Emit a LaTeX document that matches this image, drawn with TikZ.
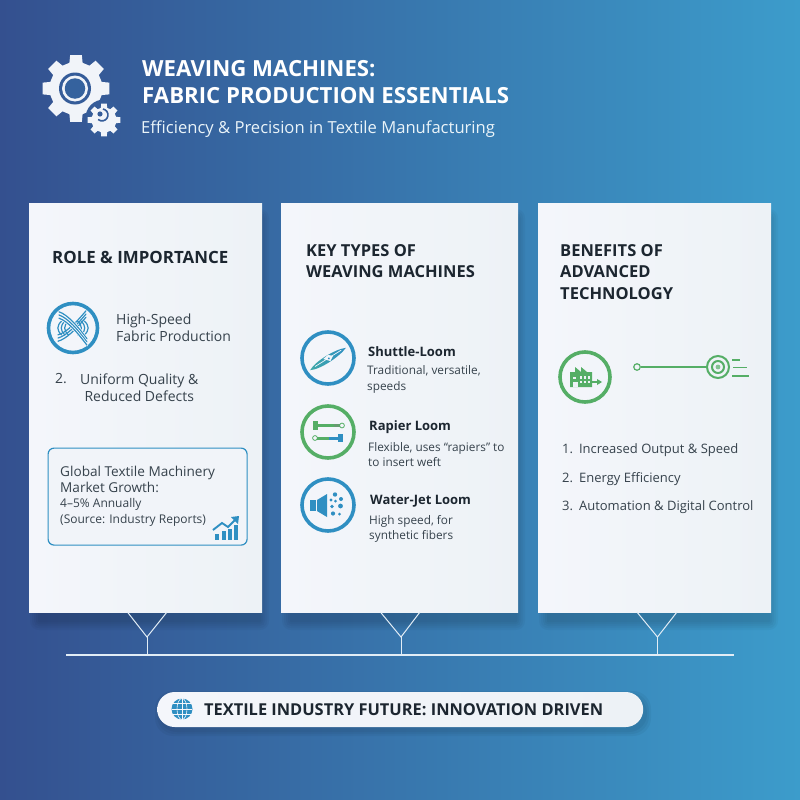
\documentclass[tikz,border=0pt]{standalone}
\usepackage{fontspec}
\setmainfont{Open Sans}
\usetikzlibrary{calc}
\definecolor{bgL}{HTML}{34508F}
\definecolor{bgM}{HTML}{3678B0}
\definecolor{bgR}{HTML}{3C9CCB}
\definecolor{cardA}{HTML}{F4F6FB}
\definecolor{cardB}{HTML}{EDF2F6}
\definecolor{iblue}{HTML}{2F8FC2}
\definecolor{iteal}{HTML}{3FA8A8}
\definecolor{igreen}{HTML}{55AE66}
\definecolor{head}{HTML}{1C2630}
\definecolor{body}{HTML}{36424C}
\definecolor{gearw}{HTML}{F1F4F9}
\newcommand{\gearshape}[6]{% cx cy router rinner n color
  \pgfmathsetmacro{\stp}{360/#5}
  \pgfmathsetmacro{\lastk}{#5-1}
  \fill[#6] ({#1+#3*cos(-\stp*0.22)},{#2+#3*sin(-\stp*0.22)})
    \foreach \k in {0,...,\lastk}{
      -- ({#1+#3*cos(\k*\stp-\stp*0.22)},{#2+#3*sin(\k*\stp-\stp*0.22)})
      -- ({#1+#3*cos(\k*\stp+\stp*0.22)},{#2+#3*sin(\k*\stp+\stp*0.22)})
      -- ({#1+#4*cos(\k*\stp+\stp*0.32)},{#2+#4*sin(\k*\stp+\stp*0.32)})
      -- ({#1+#4*cos(\k*\stp+\stp*0.68)},{#2+#4*sin(\k*\stp+\stp*0.68)})
    } -- cycle;
}
\tikzset{
  x=1pt,y=-1pt,
  cardbox/.style={draw=none,left color=cardA,right color=cardB,minimum height=409pt,inner sep=0pt,anchor=north west},
  heading/.style={anchor=west,inner sep=0pt,font=\fontsize{16.5}{21}\selectfont\bfseries,text=head,align=left},
  bodytxt/.style={anchor=west,inner sep=0pt,font=\fontsize{14}{17}\selectfont,text=body,align=left},
  smalltxt/.style={anchor=west,inner sep=0pt,font=\fontsize{11.8}{15.5}\selectfont,text=body,align=left},
  loomtitle/.style={anchor=west,inner sep=0pt,font=\fontsize{13}{17}\selectfont\bfseries,text=head},
  ring/.style={circle,draw=#1,line width=3.6pt,fill=none,inner sep=0pt},
  wire/.style={draw=cardA!90!bgR,line width=1.3pt},
}
\begin{document}
\begin{tikzpicture}
\useasboundingbox (0,0) rectangle (800,800);
% background
\shade[left color=bgL,middle color=bgM,right color=bgR] (0,0) rectangle (800,800);

% card shadows
\foreach \xa/\xb in {29/262,281/518,538/771}{
  \foreach \g in {1,3,5,7,9}{
    \fill[black,opacity=0.03,rounded corners=\g pt]
      (\xa+10-\g,218-\g) rectangle (\xb-2+\g,621+\g);
  }
}
% cards
\node[cardbox,minimum width=233pt] (card1) at (29,203) {};
\node[cardbox,minimum width=237pt] (card2) at (281,203) {};
\node[cardbox,minimum width=233pt] (card3) at (538,203) {};

% header gear icon
\gearshape{76}{88.5}{34}{26.5}{8}{gearw}
\node[circle,fill=bgL!70!bgM,minimum size=32pt,inner sep=0pt] (gearhole) at (75,88.5) {};
\node[circle,fill=gearw,minimum size=26pt,inner sep=0pt] (gearmid) at (75,88.5) {};
\node[circle,fill=bgL!55!bgM,minimum size=20.5pt,inner sep=0pt] (gearin) at (75,88.5) {};
\fill[bgL!70!bgM] (104,118) circle (18.5);
\gearshape{104}{120}{16.5}{12.5}{8}{gearw}
\draw[bgL!70!bgM,line width=1.6pt] (103,109) arc (-80:130:6);
\fill[bgL!70!bgM] (100,114) circle (2.6);

% title
\node[anchor=west,inner sep=0pt,text=white,font=\fontsize{22.2}{27}\selectfont\bfseries,align=left] (title) at (142,82.5) {WEAVING MACHINES:\\FABRIC PRODUCTION ESSENTIALS};
\node[anchor=west,inner sep=0pt,text=white!90!iblue,font=\fontsize{16.6}{20}\selectfont] (subtitle) at (141,129) {Efficiency \& Precision in Textile Manufacturing};

% card 1
\node[heading,font=\fontsize{16.9}{21}\selectfont\bfseries] (h1) at (52,257) {ROLE \& IMPORTANCE};
\node[ring=iblue,minimum size=49pt] (weave) at (73,328) {};
\begin{scope}[line cap=round]
  \foreach \d in {-3.4,0,3.4}{
    \draw[iblue,line width=1.2pt] ({65+\d},321) .. controls ({60+\d},326) and ({60+\d},330) .. ({65+\d},335);
    \draw[iblue,line width=1.2pt] ({81-\d},321) .. controls ({86-\d},326) and ({86-\d},330) .. ({81-\d},335);
  }
  \foreach \d in {-3.2,0,3.2}{
    \draw[iblue,line width=1.2pt] (58,{338+\d}) .. controls (66,{336+\d}) and (76,{326+\d}) .. (86,{314+\d});
  }
  \foreach \d in {-3.2,0,3.2}{
    \draw[cardA,line width=2.6pt] (59,{315+\d}) .. controls (68,{318+\d}) and (78,{330+\d}) .. (87,{342+\d});
    \draw[iblue,line width=1.2pt] (59,{315+\d}) .. controls (68,{318+\d}) and (78,{330+\d}) .. (87,{342+\d});
  }
\end{scope}
\node[bodytxt] (t11) at (116,327.5) {High-Speed\\Fabric Production};
\node[bodytxt] (t12) at (55,379) {2.};
\node[bodytxt,align=center] (t13) at (80,388) {Uniform Quality \&\\Reduced Defects};
\node[draw=iblue,line width=1.2pt,rounded corners=6pt,minimum width=199pt,minimum height=97pt,anchor=north west,fill=cardA!60!cardB] (market) at (47.5,447.5) {};
\node[bodytxt,font=\fontsize{13.6}{16.5}\selectfont] (m1) at (60,479.5) {Global Textile Machinery\\Market Growth:};
\node[smalltxt,font=\fontsize{12}{16}\selectfont] (m2) at (60,512) {4–5\% Annually\\(Source: Industry Reports)};
\begin{scope}[iblue]
  \fill (215,534) rectangle (219,540);
  \fill (221.5,531) rectangle (225.5,540);
  \fill (228,529) rectangle (232,540);
  \fill (234,525) rectangle (238,540);
  \draw[line width=1.9pt] (213,530) -- (222,523) -- (228,527) -- (236,519);
  \fill (239,516) -- (231,517) -- (238,524) -- cycle;
\end{scope}

% card 2
\node[heading] (h2) at (306,261) {KEY TYPES OF\\WEAVING MACHINES};
\node[ring=iblue,minimum size=52pt] (shuttle) at (328,358) {};
\begin{scope}[rotate around={32:(328,359)}]
  \shade[left color=iteal,right color=iblue] (307,359) .. controls (316,354) and (340,354.5) .. (349,359) .. controls (340,363) and (316,364) .. cycle;
  \draw[cardA,line width=.7pt] (313,358.5) -- (344,358.5);
  \fill[cardA] (324,356.5) -- (330,355.5) -- (334,359) -- (329,362) -- cycle;
  \fill[iblue] (329,359) circle (1.1);
\end{scope}
\node[loomtitle] (s1) at (368,352) {Shuttle-Loom};
\node[smalltxt] (s2) at (367,379.5) {Traditional, versatile,\\speeds};
\node[ring=igreen,minimum size=52pt] (rapier) at (328,432) {};
\begin{scope}
  \draw[igreen,line width=3pt] (314,425.5) -- (334,425.5);
  \draw[igreen!60!gray,line width=3pt] (334,425.5) -- (340,425.5);
  \fill[igreen] (312.5,420.5) rectangle (318,430);
  \draw[igreen,line width=.8pt] (342,425.5) circle (2.4);
  \draw[igreen,line width=3pt] (317,438) -- (329,438);
  \draw[iblue,line width=3pt] (329,438) -- (339,438);
  \fill[iblue] (338,434) rectangle (343,442);
  \draw[igreen,line width=.8pt] (315,438) circle (2.4);
\end{scope}
\node[loomtitle] (r1) at (369,427) {Rapier Loom};
\node[smalltxt] (r2) at (368,454.5) {Flexible, uses “rapiers” to\\to insert weft};
\node[ring=iblue,minimum size=52pt] (jet) at (328,505) {};
\begin{scope}[iblue]
  \fill (310,500) rectangle (316,511);
  \fill (317,500) -- (327,494) -- (327,517) -- (317,511) -- cycle;
  \fill (331,500) circle (1.7);
  \fill (335,494.5) circle (2.2);
  \fill (335.5,501) circle (1.5);
  \fill (341,499) circle (2);
  \fill (332,506.5) circle (1.8);
  \fill (340.5,506) circle (2.4);
  \fill (333,513.5) circle (2.1);
  \fill (339.5,514) circle (1.5);
\end{scope}
\node[loomtitle] (w1) at (370,501) {Water-Jet Loom};
\node[smalltxt] (w2) at (369,529) {High speed, for\\synthetic fibers};

% card 3
\node[heading,font=\fontsize{16.5}{21.5}\selectfont\bfseries] (h3) at (560,272) {BENEFITS OF\\ADVANCED\\TECHNOLOGY};
\node[ring=igreen,minimum size=50pt] (factory) at (585,377) {};
\begin{scope}[igreen]
  \fill (570,387) -- (570,372) -- (575,372) -- (575,367) -- (581,372) -- (581,367) -- (587,372) -- (592,372) -- (592,387) -- cycle;
  \fill[cardB] (573,377) rectangle (576,379);
  \fill[cardB] (573,382) rectangle (578,387);
  \foreach \xx in {580,584,588}{\fill[cardB] (\xx,376) rectangle (\xx+2.4,378.5); \fill[cardB] (\xx,381) rectangle (\xx+2.4,383);}
  \draw[line width=1.2pt] (592,382) -- (598,382);
  \fill (602,382) -- (597,379) -- (597,385) -- cycle;
\end{scope}
\node[circle,draw=igreen,line width=1.2pt,minimum size=6.5pt,inner sep=0pt] (dot) at (637,367) {};
\node[circle,draw=igreen,line width=2pt,minimum size=22pt,inner sep=0pt] (target) at (718,367) {};
\node[circle,draw=igreen,line width=2pt,minimum size=12pt,inner sep=0pt] (targetin) at (718,367) {};
\draw[igreen,line width=1.2pt] (dot) -- (target);
\fill[igreen!70!cardB] (718,367) circle (2.4);
\draw[igreen,line width=1.6pt] (732,360) -- (740,360) (733,367.5) -- (747,367.5) (732,376) -- (749,376);
\foreach \nm/\yy/\tx in {b1/450.5/{1.\hspace{6pt}Increased Output \& Speed},b2/479.5/{2.\hspace{6pt}Energy Efficiency},b3/507.5/{3.\hspace{6pt}Automation \& Digital Control}}{
  \node[bodytxt,font=\fontsize{13}{16}\selectfont] (\nm) at (562,\yy) {\tx};
}

% connectors
\draw[wire] (66,655) coordinate (busL) -- (734,655) coordinate (busR);
\coordinate (y1) at (147,637);
\coordinate (y2) at (401,637);
\coordinate (y3) at (657.5,637);
\draw[wire,line width=1pt] ($(card1.south)+(-18,0)$) -- (y1) -- ($(card1.south)+(21,0)$);
\draw[wire,line width=1pt] ($(card2.south)+(-19,0)$) -- (y2) -- ($(card2.south)+(20,0)$);
\draw[wire,line width=1pt] ($(card3.south)+(-17.5,0)$) -- (y3) -- ($(card3.south)+(22,0)$);
\draw[wire,line width=1pt] (y1) -- (y1 |- busL);
\draw[wire,line width=1pt] (y2) -- (y2 |- busL);
\draw[wire,line width=1pt] (y3) -- (y3 |- busL);

% pill
\foreach \g in {1,3,5}{
  \fill[black,opacity=0.04,rounded corners=18pt] (160-\g,696-\g) rectangle (646+\g,731+\g);
}
\node[draw=none,left color=cardA,right color=cardB,rounded corners=17.5pt,minimum width=486pt,minimum height=35pt,inner sep=0pt,anchor=west] (pill) at (157,709.5) {};
\node[circle,fill=iblue,minimum size=21pt,inner sep=0pt] (globe) at (182,709) {};
\begin{scope}[cardA,line width=.6pt]
  \draw (globe.center) ellipse (5 and 10.5);
  \draw (globe.north) -- (globe.south);
  \draw (171.8,709) -- (192.2,709) (173,703.5) -- (191,703.5) (173,714.5) -- (191,714.5);
\end{scope}
\node[anchor=west,inner sep=0pt,text=head,font=\fontsize{16.4}{20}\selectfont\bfseries] (pilltxt) at (204,709.5) {TEXTILE INDUSTRY FUTURE: INNOVATION DRIVEN};
\end{tikzpicture}
\end{document}
